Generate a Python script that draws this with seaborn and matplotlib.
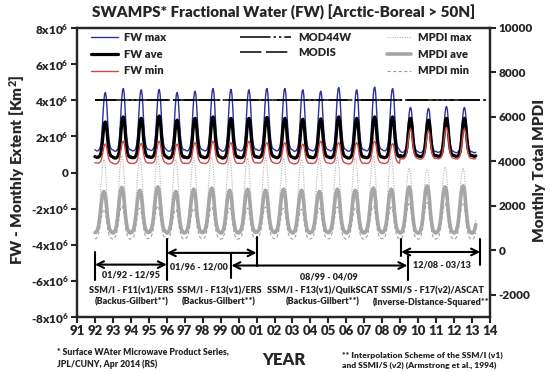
import numpy as np
import pandas as pd
import seaborn as sns
import matplotlib.pyplot as plt

sns.set_style('ticks')
plt.rcParams['font.family'] = ['Lato', 'DejaVu Sans']
plt.rcParams['font.weight'] = 'heavy'
plt.rcParams['mathtext.fontset'] = 'custom'
plt.rcParams['mathtext.bf'] = 'Lato:heavy'
plt.rcParams['mathtext.rm'] = 'Lato:heavy'
plt.rcParams['mathtext.default'] = 'bf'

# -----------------------------
# Data
# -----------------------------
years = list(range(1992, 2014))
steps = 24          # half-month steps per year
n_points = 21 * 24 + 6  # Jan 1992 - Mar 2013

# seasonal shape, half-month steps Jan..Dec (0 = winter low, 1 = summer high)
fw_shape = [0.02, 0.01, 0.0, 0.0, 0.0, 0.01, 0.03, 0.06, 0.12, 0.25, 0.45, 0.68,
            0.87, 0.98, 1.0, 0.93, 0.75, 0.5, 0.3, 0.17, 0.09, 0.05, 0.03, 0.02]
mpdi_shape = [0.0, 0.0, 0.02, 0.05, 0.1, 0.18, 0.3, 0.45, 0.62, 0.78, 0.9, 0.97,
              1.0, 0.97, 0.88, 0.72, 0.52, 0.35, 0.22, 0.12, 0.06, 0.03, 0.01, 0.0]

# FW (km2), yearly summer high / winter low
fw_max_peak = [4.43, 4.65, 4.58, 4.60, 4.43, 4.50, 4.65, 4.60, 4.58, 4.65, 4.65,
               4.58, 4.50, 4.70, 4.58, 4.73, 4.65, 3.60, 3.55, 3.65, 3.60, 3.60]
fw_max_low = [1.20, 1.18, 1.20, 1.22, 1.18, 1.20, 1.20, 1.18, 1.20, 1.22, 1.20,
              1.18, 1.20, 1.20, 1.18, 1.20, 1.20, 1.12, 1.10, 1.12, 1.10, 1.10]
fw_ave_peak = [2.80, 3.08, 3.00, 3.13, 2.90, 3.00, 3.08, 3.00, 3.00, 3.05, 3.00,
               2.95, 2.97, 3.08, 3.00, 3.08, 3.08, 3.00, 2.90, 3.00, 3.00, 3.00]
fw_ave_low = [0.84, 0.80, 0.82, 0.84, 0.80, 0.82, 0.82, 0.80, 0.82, 0.84, 0.82,
              0.80, 0.82, 0.82, 0.80, 0.82, 0.82, 0.90, 0.88, 0.90, 0.90, 0.90]
fw_min_peak = [1.57, 1.73, 1.60, 1.73, 1.57, 1.65, 1.73, 1.65, 1.73, 1.65, 1.65,
               1.57, 1.73, 1.65, 1.65, 1.73, 1.60, 2.40, 2.30, 2.50, 2.40, 2.40]
fw_min_low = [0.52, 0.48, 0.50, 0.52, 0.48, 0.50, 0.50, 0.48, 0.50, 0.52, 0.50,
              0.48, 0.50, 0.50, 0.48, 0.50, 0.50, 0.75, 0.74, 0.76, 0.75, 0.75]

# MPDI (monthly total), yearly summer high / winter low
mpdi_max_peak = [4100, 4250, 4150, 4250, 4100, 4150, 4200, 4150, 4150, 4200, 4150,
                 4100, 4150, 4200, 4150, 4250, 4200, 3700, 3650, 3750, 3700, 3700]
mpdi_max_low = [900, 880, 900, 900, 880, 900, 900, 880, 900, 900, 900,
                880, 900, 900, 880, 900, 900, 850, 850, 850, 850, 850]
mpdi_ave_peak = [2650, 2830, 2700, 2850, 2650, 2750, 2800, 2700, 2750, 2700, 2750,
                 2700, 2650, 2750, 2700, 2800, 2750, 2850, 2900, 2850, 2900, 2900]
mpdi_ave_low = [800, 780, 800, 820, 780, 800, 800, 780, 800, 820, 800,
                780, 800, 800, 780, 800, 800, 780, 780, 800, 780, 780]
mpdi_min_peak = [1850, 2000, 1900, 2000, 1850, 1900, 1950, 1900, 1900, 1950, 1900,
                 1850, 1900, 1950, 1900, 2000, 1950, 2100, 2150, 2100, 2150, 2150]
mpdi_min_low = [520, 500, 520, 540, 500, 520, 520, 500, 520, 540, 520,
                500, 520, 520, 500, 520, 520, 520, 500, 520, 500, 500]

# MODIS reference levels (static products)
ref_years = [1992, 2013.75]
mod44w = [4.0e6, 4.0e6]
modis = [4.0e6, 4.0e6]


def series(peak, low, shape, scale=1.0):
    vals = []
    for i in range(len(years)):
        for s in shape:
            vals.append((low[i] + (peak[i] - low[i]) * s) * scale)
    return vals[:n_points]


t = [yr + k / steps for yr in years for k in range(steps)][:n_points]
df = pd.DataFrame({
    't': t,
    'fw_max': series(fw_max_peak, fw_max_low, fw_shape, 1e6),
    'fw_ave': series(fw_ave_peak, fw_ave_low, fw_shape, 1e6),
    'fw_min': series(fw_min_peak, fw_min_low, fw_shape, 1e6),
    'mpdi_max': series(mpdi_max_peak, mpdi_max_low, mpdi_shape),
    'mpdi_ave': series(mpdi_ave_peak, mpdi_ave_low, mpdi_shape),
    'mpdi_min': series(mpdi_min_peak, mpdi_min_low, mpdi_shape),
})

# -----------------------------
# Figure
# -----------------------------
W, H = 550, 372
fig = plt.figure(figsize=(5.5, 3.72), dpi=100)
ax = fig.add_axes([77 / W, 1 - 317 / H, 413 / W, 289 / H])
ax2 = ax.twinx()
ax.set_zorder(ax2.get_zorder() + 1)
ax.patch.set_visible(False)

# MPDI on right axis
sns.lineplot(data=df, x='t', y='mpdi_max', ax=ax2, color='#b4b4b4', lw=0.8,
             linestyle=(0, (1, 1.2)), label='MPDI max', legend=False)
sns.lineplot(data=df, x='t', y='mpdi_ave', ax=ax2, color='#a6a6a6', lw=2.6,
             label='MPDI ave', legend=False)
sns.lineplot(data=df, x='t', y='mpdi_min', ax=ax2, color='#a0a0a0', lw=0.8,
             linestyle=(0, (3, 2)), label='MPDI min', legend=False)

# FW on left axis
sns.lineplot(data=df, x='t', y='fw_max', ax=ax, color='#2e2e9e', lw=1.0,
             label='FW max', legend=False)
sns.lineplot(data=df, x='t', y='fw_ave', ax=ax, color='black', lw=2.3,
             label='FW ave', legend=False)
sns.lineplot(data=df, x='t', y='fw_min', ax=ax, color='#d04848', lw=1.0,
             label='FW min', legend=False)
sns.lineplot(x=ref_years, y=mod44w, ax=ax, color='black', lw=1.1,
             linestyle=(0, (20, 2, 1.5, 2, 1.5, 2)), label='MOD44W', legend=False)
sns.lineplot(x=ref_years, y=modis, ax=ax, color='black', lw=1.1,
             linestyle=(0, (14, 3)), label='MODIS', legend=False)

# axes
ax.set_xlim(1991, 2014)
ax.set_ylim(-8e6, 8e6)
ax2.set_ylim(-3000, 10000)
ax.set_xticks(range(1991, 2015))
ax.set_xticklabels([f'{y % 100:02d}' for y in range(1991, 2015)], fontsize=9.5)
fw_ticks = list(range(-8, 9, 2))
ax.set_yticks([v * 1e6 for v in fw_ticks])
ax.set_yticklabels(['0' if v == 0 else f'{v}x10$^6$' for v in fw_ticks], fontsize=8.5)
ax2.set_yticks(range(-2000, 10001, 2000))
ax2.set_yticklabels([str(v) for v in range(-2000, 10001, 2000)], fontsize=8.5)
ax.set_xlabel('')
ax.set_ylabel('')
ax2.set_ylabel('')
for a in (ax, ax2):
    a.tick_params(direction='out', length=4, width=1.5, pad=2)
    for s in a.spines.values():
        s.set_linewidth(1.6)
        s.set_visible(True)

# legends
h, l = ax.get_legend_handles_labels()
hd = dict(zip(l, h))
leg1 = ax.legend([hd['FW max'], hd['FW ave'], hd['FW min']], ['FW max', 'FW ave', 'FW min'],
                 loc='upper left', bbox_to_anchor=(0.035, 0.985), frameon=False,
                 fontsize=8, handlelength=2.4, handletextpad=0.5, labelspacing=0.5,
                 borderaxespad=0, borderpad=0)
ax.add_artist(leg1)
ax.legend([hd['MOD44W'], hd['MODIS']], ['MOD44W', 'MODIS'],
          loc='upper left', bbox_to_anchor=(0.395, 0.985), frameon=False,
          fontsize=8, handlelength=4.6, handletextpad=0.6, labelspacing=0.3,
          borderaxespad=0, borderpad=0)
h2, l2 = ax2.get_legend_handles_labels()
ax2.legend(h2, l2, loc='upper left', bbox_to_anchor=(0.75, 0.985), frameon=False,
           fontsize=8, handlelength=2.2, handletextpad=0.6, labelspacing=0.5,
           borderaxespad=0, borderpad=0)

# sensor period markers
bars = [(1992.0, -4.4e6, -5.95e6), (1996.0, -3.7e6, -5.95e6), (2001.0, -3.55e6, -5.15e6),
        (1999.6, -4.5e6, -5.85e6), (2009.45, -4.65e6, -5.95e6), (2009.05, -3.7e6, -4.6e6),
        (2013.45, -3.7e6, -5.1e6)]
for x, y0, y1 in bars:
    ax.plot([x, x], [y0, y1], color='black', lw=1.5)
arrows = [(1992.0, 1996.0, -5.1e6), (1996.0, 2001.0, -4.45e6),
          (1999.6, 2009.4, -5.15e6), (2009.05, 2013.45, -4.4e6)]
for x0, x1, y in arrows:
    ax.annotate('', xy=(x1, y), xytext=(x0, y),
                arrowprops=dict(arrowstyle='<->', color='black', lw=1.5,
                                shrinkA=0, shrinkB=0, mutation_scale=12))
periods = [(1994.0, -5.7e6, '01/92 - 12/95'), (1997.8, -5.25e6, '01/96 - 12/00'),
           (2005.0, -5.8e6, '08/99 - 04/09'), (2011.35, -5.1e6, '12/08 - 03/13')]
for x, y, s in periods:
    ax.text(x, y, s, ha='center', va='center', fontsize=6.5)
sensors = [(1994.05, 'SSM/I - F11(v1)/ERS\n(Backus-Gilbert**)'),
           (1998.9, 'SSM/I - F13(v1)/ERS\n(Backus-Gilbert**)'),
           (2004.7, 'SSM/I - F13(v1)/QuikSCAT\n(Backus-Gilbert**)'),
           (2010.8, 'SSMI/S - F17(v2)/ASCAT\n(Inverse-Distance-Squared**)')]
for x, s in sensors:
    ax.text(x, -6.88e6, s, ha='center', va='center', fontsize=6.5, linespacing=1.25)

# titles and labels
fig.text(284 / W, 1 - 12 / H, 'SWAMPS* Fractional Water (FW) [Arctic-Boreal > 50N]',
         ha='center', va='center', fontsize=11)
fig.text(17 / W, 1 - 170 / H, 'FW - Monthly Extent [Km$^2$]', rotation=90,
         ha='center', va='center', fontsize=11)
fig.text(540 / W, 1 - 170 / H, 'Monthly Total MPDI', rotation=90,
         ha='center', va='center', fontsize=11)
fig.text(284 / W, 1 - 360 / H, 'YEAR', ha='center', va='center', fontsize=12)
fig.text(57 / W, 1 - 358 / H, '* Surface WAter Microwave Product Series,\nJPL/CUNY, Apr 2014 (RS)',
         ha='left', va='center', fontsize=6.2, linespacing=1.45)
fig.text(342 / W, 1 - 360 / H, '** Interpolation Scheme of the SSM/I (v1)\nand SSMI/S (v2) (Armstrong et al., 1994)',
         ha='left', va='center', fontsize=6.1, linespacing=1.45)

fig.savefig('out.png', dpi=100)
